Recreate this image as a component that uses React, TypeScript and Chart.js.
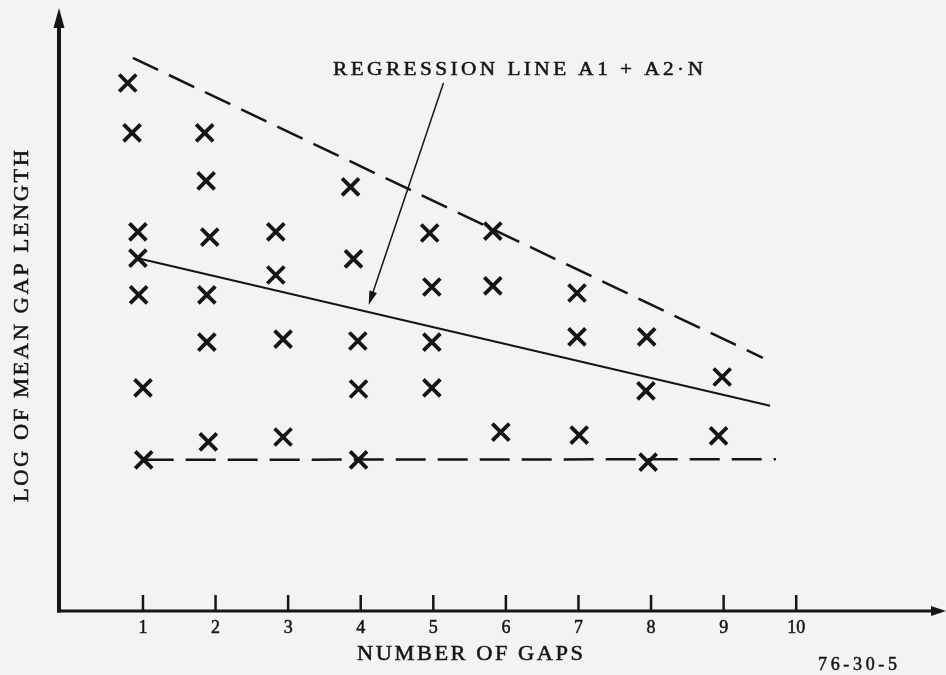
import { useEffect, useRef } from "react";
import { Chart, registerables } from "chart.js";

Chart.register(...registerables);

// Observed marks (x = number of gaps as plotted, y = log of mean gap length, arbitrary units)
const gapCount = [
  0.79, 0.85, 0.93, 0.93, 0.94, 1.0, 1.01,
  1.85, 1.87, 1.92, 1.88, 1.88, 1.9,
  2.83, 2.83, 2.93, 2.93,
  3.86, 3.9, 3.96, 3.97, 3.97,
  4.95, 4.98, 4.98, 4.98,
  5.82, 5.82, 5.93,
  6.98, 6.98, 7.01,
  7.94, 7.93, 7.96,
  8.98, 8.93,
];
const logMeanGap = [
  8.8, 7.97, 6.32, 5.88, 5.27, 3.72, 2.52,
  7.97, 7.17, 6.23, 5.27, 4.48, 2.82,
  6.32, 5.6, 4.53, 2.9,
  7.07, 5.87, 4.5, 3.7, 2.52,
  6.3, 5.4, 4.48, 3.72,
  6.33, 5.42, 2.98,
  5.3, 4.57, 2.93,
  4.57, 3.67, 2.48,
  3.9, 2.92,
];

const upperX = [0.86, 9.54];
const upperY = [9.22, 4.22];
const regressionX = [0.93, 9.64];
const regressionY = [5.88, 3.42];
const lowerX = [1.01, 9.72];
const lowerY = [2.52, 2.53];

const xTicks = [1, 2, 3, 4, 5, 6, 7, 8, 9, 10];
const xTitle = "NUMBER OF GAPS";
const yTitle = "LOG OF MEAN GAP LENGTH";
const noteText = "REGRESSION LINE A1 + A2\u00B7N";
const figureId = "76-30-5";

// annotation arrow, in data coordinates
const arrowFrom = { x: 5.14, y: 8.8 };
const arrowTo = { x: 4.11, y: 5.1 };

const INK = "#151515";
const PAPER = "#f3f3f3";
const FONT = '"Liberation Serif", "DejaVu Serif", serif';

const toPts = (xs: number[], ys: number[]) => xs.map((x, i) => ({ x, y: ys[i] }));

function fitText(ctx: CanvasRenderingContext2D, text: string, x: number, y: number, width: number, size: number, stretch = 1.12) {
  ctx.save();
  ctx.font = `${size}px ${FONT}`;
  (ctx as any).letterSpacing = "0px";
  const w = ctx.measureText(text).width * stretch;
  const ls = (width - w) / Math.max(1, text.length - 1) / stretch;
  (ctx as any).letterSpacing = `${ls}px`;
  ctx.textAlign = "left";
  ctx.translate(x, y);
  ctx.scale(stretch, 1);
  ctx.fillText(text, 0, 0);
  ctx.lineWidth = 0.5;
  ctx.strokeText(text, 0, 0);
  ctx.restore();
}

const decor = {
  id: "decor",
  beforeDraw(chart: any) {
    const ctx = chart.ctx as CanvasRenderingContext2D;
    ctx.save();
    ctx.fillStyle = PAPER;
    ctx.fillRect(0, 0, chart.width, chart.height);
    ctx.restore();
  },
  afterDatasetsDraw(chart: any) {
    const ctx = chart.ctx as CanvasRenderingContext2D;
    const xs = chart.scales.x;
    const ys = chart.scales.y;
    const x0 = xs.getPixelForValue(xs.min);
    const y0 = ys.getPixelForValue(0);
    const yTop = ys.getPixelForValue(ys.max);
    const xRight = xs.getPixelForValue(xs.max);
    ctx.save();
    ctx.strokeStyle = INK;
    ctx.fillStyle = INK;
    ctx.lineCap = "butt";

    // y axis
    ctx.lineWidth = 4;
    ctx.beginPath();
    ctx.moveTo(x0, y0 + 1.5);
    ctx.lineTo(x0, yTop + 14);
    ctx.stroke();
    ctx.beginPath();
    ctx.moveTo(x0, yTop);
    ctx.lineTo(x0 - 5.5, yTop + 20);
    ctx.lineTo(x0 + 5.5, yTop + 20);
    ctx.closePath();
    ctx.fill();

    // x axis
    ctx.lineWidth = 3;
    ctx.beginPath();
    ctx.moveTo(x0 - 2, y0);
    ctx.lineTo(xRight - 10, y0);
    ctx.stroke();
    ctx.beginPath();
    ctx.moveTo(xRight + 1, y0);
    ctx.lineTo(xRight - 14, y0 - 5);
    ctx.lineTo(xRight - 14, y0 + 5);
    ctx.closePath();
    ctx.fill();

    // ticks and labels
    ctx.lineWidth = 2.5;
    ctx.font = `18px ${FONT}`;
    ctx.textAlign = "center";
    ctx.textBaseline = "alphabetic";
    xTicks.forEach((t) => {
      const px = xs.getPixelForValue(t);
      ctx.beginPath();
      ctx.moveTo(px, y0);
      ctx.lineTo(px, y0 - 16);
      ctx.stroke();
      ctx.save();
      ctx.lineWidth = 0.5;
      ctx.fillText(String(t), px, y0 + 22);
      ctx.strokeText(String(t), px, y0 + 22);
      ctx.restore();
    });

    // titles
    fitText(ctx, xTitle, 357, 660, 226, 20);
    ctx.save();
    ctx.translate(28, 502);
    ctx.rotate(-Math.PI / 2);
    fitText(ctx, yTitle, 0, 0, 352, 20);
    ctx.restore();
    fitText(ctx, noteText, 333, 75, 370, 19);
    fitText(ctx, figureId, 818, 670, 79, 18, 1);

    // annotation arrow
    const ax = xs.getPixelForValue(arrowFrom.x);
    const ay = ys.getPixelForValue(arrowFrom.y);
    const bx = xs.getPixelForValue(arrowTo.x);
    const by = ys.getPixelForValue(arrowTo.y);
    const ang = Math.atan2(by - ay, bx - ax);
    ctx.lineWidth = 1.5;
    ctx.beginPath();
    ctx.moveTo(ax, ay);
    ctx.lineTo(bx - Math.cos(ang) * 10, by - Math.sin(ang) * 10);
    ctx.stroke();
    ctx.beginPath();
    ctx.moveTo(bx, by);
    ctx.lineTo(bx - Math.cos(ang) * 14 + Math.sin(ang) * 4, by - Math.sin(ang) * 14 - Math.cos(ang) * 4);
    ctx.lineTo(bx - Math.cos(ang) * 14 - Math.sin(ang) * 4, by - Math.sin(ang) * 14 + Math.cos(ang) * 4);
    ctx.closePath();
    ctx.fill();

    ctx.restore();
  },
};

export default function App() {
  const ref = useRef<HTMLCanvasElement | null>(null);
  useEffect(() => {
    if (!ref.current) return;
    const chart = new Chart(ref.current, {
      type: "scatter",
      data: {
        datasets: [
          {
            type: "line",
            data: toPts(upperX, upperY),
            borderColor: INK,
            borderWidth: 2.5,
            borderDash: [28, 12],
            pointRadius: 0,
          },
          {
            type: "line",
            data: toPts(regressionX, regressionY),
            borderColor: INK,
            borderWidth: 2,
            pointRadius: 0,
          },
          {
            type: "line",
            data: toPts(lowerX, lowerY),
            borderColor: INK,
            borderWidth: 2.5,
            borderDash: [30, 12],
            pointRadius: 0,
          },
          {
            data: toPts(gapCount, logMeanGap),
            pointStyle: "crossRot",
            pointRadius: 12,
            pointBorderWidth: 3.8,
            borderColor: INK,
            backgroundColor: INK,
          } as any,
        ],
      },
      options: {
        animation: false,
        responsive: false,
        events: [],
        layout: { autoPadding: false, padding: { left: 59, right: 1, top: 8, bottom: 64 } },
        plugins: { legend: { display: false }, tooltip: { enabled: false } },
        scales: {
          x: { type: "linear", min: -0.157, max: 12.05, display: false },
          y: { type: "linear", min: 0, max: 10.05, display: false },
        },
      },
      plugins: [decor],
    });
    return () => chart.destroy();
  }, []);
  return (
    <div style={{ position: "absolute", left: 0, top: 0, width: 946, height: 675, background: PAPER }}>
      <canvas ref={ref} width={946} height={675} style={{ width: 946, height: 675, display: "block" }} />
    </div>
  );
}
